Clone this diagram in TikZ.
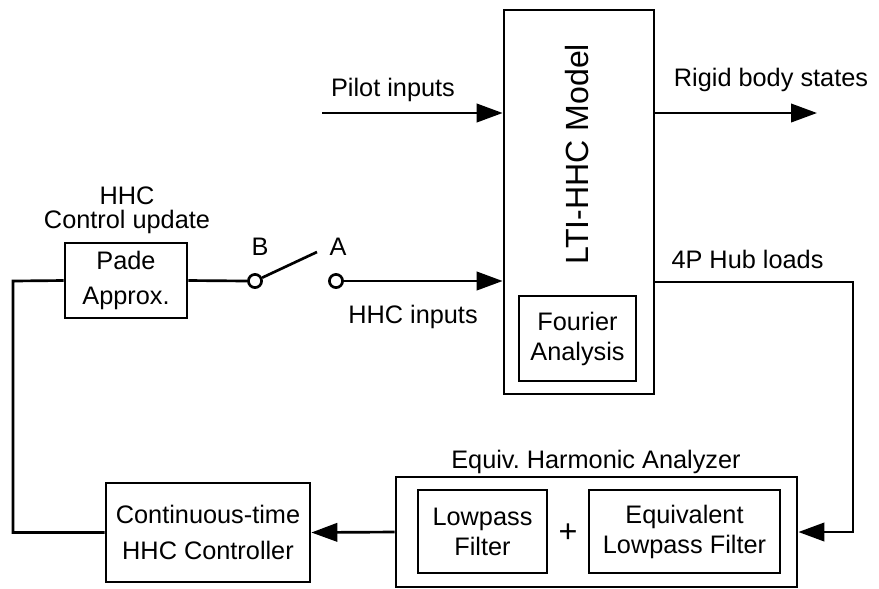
\documentclass[tikz,border=0pt]{standalone}
\usepackage{fontspec}
\setmainfont{Liberation Sans}
\usetikzlibrary{arrows.meta, positioning}

\begin{document}
\begin{tikzpicture}[
    x=0.025cm, y=-0.025cm,
    blk/.style={draw, rectangle, line width=1.9pt, align=center, inner sep=0pt, font=\fontsize{18}{25}\selectfont},
    lbl/.style={align=center, inner sep=0pt, font=\fontsize{18}{25}\selectfont},
    pin/.style={draw, circle, line width=1.9pt, minimum size=0.33cm, inner sep=0pt},
    wire/.style={line width=1.9pt},
    arrow/.style={-{Triangle[length=6.5mm, width=4.6mm]}, line width=1.9pt}
]
    \useasboundingbox (0,0) rectangle (879,588);

    % model block
    \node[blk, minimum width=3.75cm, minimum height=9.6cm] (model) at (579,202) {};
    \node[lbl, rotate=90, font=\fontsize{22.8}{27}\selectfont] (ltitxt) at (577,154) {LTI-HHC Model};
    \node[blk, minimum width=2.925cm, minimum height=2.125cm, font=\fontsize{18}{21.3}\selectfont] (fourier) at (577.5,338.5) {Fourier\\Analysis};

    % feedback blocks
    \node[blk, minimum width=3.05cm, minimum height=1.875cm, font=\fontsize{18}{24.5}\selectfont] (pade) at (126,280.5) {Pade\\Approx.};
    \node[blk, minimum width=5.1cm, minimum height=2.475cm] (ctrl) at (208,532.5) {Continuous-time\\HHC Controller};
    \node[blk, minimum width=10.025cm, minimum height=2.75cm] (eha) at (596.5,532) {};
    \node[blk, minimum width=3.225cm, minimum height=2.075cm, font=\fontsize{18}{21.3}\selectfont] (lowpass) at (482.5,531.5) {Lowpass\\Filter};
    \node[blk, minimum width=4.775cm, minimum height=2.075cm, font=\fontsize{18}{21.3}\selectfont] (eqlow) at (684.5,531.5) {Equivalent\\Lowpass Filter};
    \node[lbl, font=\fontsize{23}{25}\selectfont] (plus) at (568,533) {+};

    % switch
    \node[pin] (swB) at (255,281) {};
    \node[pin] (swA) at (336,281) {};
    \coordinate (lever) at (317,252);
    \coordinate (pilotin) at (322,113);
    \coordinate (rigid) at (817,113);
    \coordinate (hubr) at (853,282);
    \coordinate (lft) at (13,281);

    % labels
    \node[lbl] (pilotlbl) at (393,90) {Pilot inputs};
    \node[lbl] (rigidlbl) at (771,79.5) {Rigid body states};
    \node[lbl] (hublbl) at (747.5,259) {4P Hub loads};
    \node[lbl] (hhcinlbl) at (413,316.5) {HHC inputs};
    \node[lbl] (Blbl) at (260,247) {B};
    \node[lbl] (Albl) at (338,247) {A};
    \node[lbl, font=\fontsize{18}{17}\selectfont] (updlbl) at (127,210.5) {HHC\\Control update};
    \node[lbl] (ehalbl) at (596,462) {Equiv.\ Harmonic Analyzer};

    % connections
    \draw[arrow] (pilotin) -- (model.west |- pilotin);
    \draw[arrow] (model.east |- rigid) -- (rigid);
    \draw[arrow] (swA.east) -- (model.west |- swA);
    \draw[wire] (swB.25) -- (lever);
    \draw[wire] (pade.east) -- (swB.west);
    \draw[arrow] (model.east |- hubr) -- (hubr) |- (eha.east);
    \draw[arrow] (eha.west) -- (ctrl.east);
    \draw[wire] (ctrl.west) -| (lft) -- (pade.west);
\end{tikzpicture}
\end{document}
